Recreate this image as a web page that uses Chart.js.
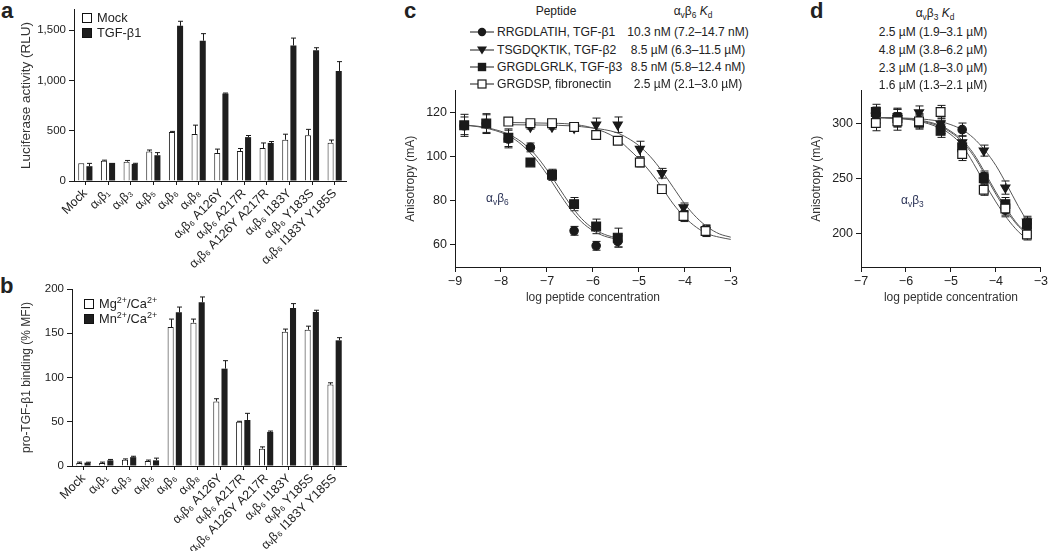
<!DOCTYPE html>
<html>
<head>
<meta charset="utf-8">
<script src="https://cdn.jsdelivr.net/npm/chart.js@4.4.1/dist/chart.umd.min.js"></script>
<style>
  body { margin: 0; width: 1050px; height: 551px; background: #fff; position: relative; overflow: hidden;
         font-family: "Liberation Sans", "DejaVu Sans", sans-serif; color: #222; }
  .abs { position: absolute; white-space: nowrap; }
  .panel { font-weight: bold; font-size: 22px; line-height: 1; }
  .txt { font-size: 12px; line-height: 14px; }
  .big { font-size: 12.8px; }
  .name { font-size: 12.2px; }
  .mid { transform: translateX(-50%); }
  .sw { display: inline-block; width: 8px; height: 8px; border: 1px solid #111; }
  canvas { display: block; }
  sub, sup { font-size: 70%; line-height: 0; }
</style>
</head>
<body>
<div class="abs panel" style="left:1px;top:0px">a</div>
<div class="abs panel" style="left:0px;top:275px">b</div>
<div class="abs panel" style="left:404px;top:0px">c</div>
<div class="abs panel" style="left:810px;top:0px">d</div>

<div class="abs" style="left:0;top:0"><canvas id="chartA" width="360" height="272"></canvas></div>
<div class="abs" style="left:0;top:272px"><canvas id="chartB" width="360" height="279"></canvas></div>
<div class="abs" style="left:395px;top:80px"><canvas id="chartC" width="345" height="229"></canvas></div>
<div class="abs" style="left:800px;top:80px"><canvas id="chartD" width="250" height="229"></canvas></div>

<div id="overlay"></div>

<script>
// ---- panel a / b : bar data ----
const groupsA = ['Mock', 'αᵥβ₁', 'αᵥβ₃', 'αᵥβ₅', 'αᵥβ₆', 'αᵥβ₈', 'αᵥβ₆ A126Y', 'αᵥβ₆ A217R',
                 'αᵥβ₆ A126Y A217R', 'αᵥβ₆ I183Y', 'αᵥβ₆ Y183S', 'αᵥβ₆ I183Y Y185S'];
const groupsB = ['Mock', 'αᵥβ₁', 'αᵥβ₃', 'αᵥβ₅', 'αᵥβ₆', 'αᵥβ₈', 'αᵥβ₆ A126Y', 'αᵥβ₆ A217R',
                 'αᵥβ₆ A126Y A217R', 'αᵥβ₆ I183Y', 'αᵥβ₆ Y185S', 'αᵥβ₆ I183Y Y185S'];
const mockRLU = [176, 202, 192, 292, 487, 468, 279, 298, 327, 410, 455, 381];
const mockErr = [0, 5, 12, 16, 6, 87, 38, 25, 51, 55, 58, 26];
const tgfRLU  = [147, 180, 170, 256, 1542, 1394, 869, 436, 378, 1346, 1298, 1093];
const tgfErr  = [28, 0, 6, 26, 45, 70, 5, 16, 14, 74, 26, 93];
const ticksA  = [0, 500, 1000, 1500];

const mgMFI  = [3.4, 3.4, 7, 5.7, 157, 162, 73, 50, 19.6, 151.7, 154, 92];
const mgErr  = [1, 1, 1, 1, 9, 4, 3, 0.5, 2, 3, 4, 2];
const mnMFI  = [3.8, 6.4, 10, 6.4, 173.6, 185, 110, 52, 38.5, 178.5, 174, 142];
const mnErr  = [0.5, 1, 1, 2.5, 6, 6, 9, 7.5, 1, 5, 2, 3];
const ticksB = [0, 50, 100, 150, 200];

// ---- panel c : alpha-v beta-6 ----
const doseC1 = [-8.8, -8.32, -7.84, -7.36, -6.89, -6.41, -5.93, -5.46];
const circC  = [114, 115, 108, 104.2, 91.5, 66.4, 59.6, 61.6];
const circCE = [4, 4, 4, 2, 2, 2, 2, 2.5];
const sqC    = [114.2, 115, 108.6, 97.4, 91.8, 78.5, 68.4, 63.3];
const sqCE   = [5, 4.5, 4, 1, 2.5, 3, 3.3, 4.3];
const doseC2 = [-7.84, -7.36, -6.89, -6.41, -5.93, -5.46, -4.98, -4.5, -4.03, -3.55];
const triC   = [null, 113.5, 113.5, 113, 114.5, 114.5, 103.5, 92.5, 77, 66.6];
const triCE  = [0, 1, 1, 1.5, 3, 3.5, 3.5, 2.2, 2, 2.5];
const openC  = [115.9, 115.2, 115.2, 113.5, 109.8, 107.2, 97.4, 85.3, 73.1, 66.3];
const openCE = [1, 1, 1, 1.5, 1.5, 1.5, 2, 1, 2.5, 2.5];
const fitXC1 = [-8.85, -8.5, -8, -7.75, -7.5, -7.25, -7, -6.75, -6.5, -6.25, -6, -5.75, -5.45];
const fitCirc = [114.4, 113.8, 111.5, 109.3, 105.8, 100.8, 94, 86.3, 78.5, 72, 67.5, 64.8, 63];
const fitSq   = [114.3, 113.6, 111, 108.5, 104.5, 99, 92, 84, 76.5, 70.5, 66.5, 64, 62.5];
const fitXC2 = [-7.85, -7, -6.5, -6, -5.5, -5.25, -5, -4.75, -4.5, -4.25, -4, -3.75, -3.5, -3.25, -3];
const fitTri  = [114.5, 114.3, 114, 113, 111, 108.5, 105, 100, 93.5, 86, 78.5, 72.5, 68, 65, 63.5];
const fitOpen = [115.5, 115.2, 114.8, 113, 108.5, 104, 99, 93, 86, 78.5, 72.5, 68, 65, 63.5, 62.5];
const ticksCx = [-9, -8, -7, -6, -5, -4, -3];
const ticksCy = [60, 80, 100, 120];

// ---- panel d : alpha-v beta-3 ----
const doseD  = [-6.67, -6.19, -5.71, -5.23, -4.75, -4.27, -3.79, -3.31];
const circD  = [308, 306, 303, 297, 294.5, 252, 221.5, 209.5];
const triD   = [307, 305, 310, 300, 283, 275.5, 242, 211];
const sqD    = [310.5, 305, 301, 293.5, 278.5, 250.5, 227, 209];
const openD  = [300.5, 302, 302, 310.5, 272.5, 240, 223, 199.5];
const errD   = [7, 8, 6, 6, 6, 5, 6, 5];
const fitXD  = [-6.7, -6.25, -5.75, -5.25, -5, -4.75, -4.5, -4.25, -4, -3.75, -3.5, -3.3];
const fitTriD  = [305.5, 305.2, 304.5, 302, 299, 294.5, 287, 276, 262, 244, 225, 211];
const fitCircD = [305.5, 305, 303.5, 298.5, 293, 285, 273, 256, 238, 222, 208, 201];
const fitSqD   = [305.5, 305, 303, 297.5, 292, 283.5, 271, 254, 236, 220, 207, 200];
const fitOpenD = [305.5, 304.8, 302.5, 296, 290, 280, 264, 246, 229, 214, 202, 195];
const ticksDx = [-7, -6, -5, -4, -3];
const ticksDy = [200, 250, 300];

// ---- legend / header text ----
const peptides = ['RRGDLATIH, TGF-β1', 'TSGDQKTIK, TGF-β2', 'GRGDLGRLK, TGF-β3', 'GRGDSP, fibronectin'];
const kdB6 = ['10.3 nM (7.2–14.7 nM)', '8.5 µM (6.3–11.5 µM)', '8.5 nM (5.8–12.4 nM)', '2.5 µM (2.1–3.0 µM)'];
const kdB3 = ['2.5 µM (1.9–3.1 µM)', '4.8 µM (3.8–6.2 µM)', '2.3 µM (1.8–3.0 µM)', '1.6 µM (1.3–2.1 µM)'];

Chart.defaults.font.family = '"Liberation Sans", "DejaVu Sans", sans-serif';
Chart.defaults.color = '#222';
Chart.defaults.animation = false;

const INK = '#1a1a1a';

// error bars, drawn under the markers
const errorBars = {
  id: 'errorBars',
  beforeDatasetsDraw(chart) {
    const ctx = chart.ctx, ys = chart.scales.y;
    chart.data.datasets.forEach((ds, i) => {
      if (!ds.errors) return;
      const meta = chart.getDatasetMeta(i);
      ctx.save();
      ctx.strokeStyle = INK;
      ctx.lineWidth = 1;
      meta.data.forEach((el, j) => {
        const e = ds.errors[j];
        const raw = ds.data[j];
        const v = (raw && typeof raw === 'object') ? raw.y : raw;
        if (!e || v == null) return;
        const x = Math.round(el.x) + 0.5;
        const top = ys.getPixelForValue(v + e);
        const bot = ds.type === 'bar' ? ys.getPixelForValue(v) : ys.getPixelForValue(v - e);
        const cap = ds.type === 'bar' ? 2.5 : 4;
        ctx.beginPath();
        ctx.moveTo(x, bot); ctx.lineTo(x, top);
        ctx.moveTo(x - cap, top); ctx.lineTo(x + cap, top);
        if (ds.type !== 'bar') { ctx.moveTo(x - cap, bot); ctx.lineTo(x + cap, bot); }
        ctx.stroke();
      });
      ctx.restore();
    });
  }
};

// canvas box + wanted plot area (page px) -> padding and axis sizes
function fit(box, area, yTitleCenter, titleSize) {
  const padL = yTitleCenter - (titleSize * 0.6 + 4) - box.l;
  return {
    padding: { left: padL, top: area.t - box.t, right: box.l + box.w - area.r, bottom: 0 },
    yWidth: area.l - box.l - padL,
    xHeight: box.t + box.h - area.b
  };
}

const axisLine = { display: true, color: INK, width: 1 };

function barChart(id, L, labels, s1, e1, s2, e2, yMax, yTicks, yTitle, titleSize, fmt) {
  return new Chart(document.getElementById(id), {
    type: 'bar',
    data: {
      labels: labels,
      datasets: [
        { type: 'bar', data: s1, errors: e1, backgroundColor: '#fff', borderColor: INK, borderWidth: 1,
          categoryPercentage: 0.72, barPercentage: 0.74 },
        { type: 'bar', data: s2, errors: e2, backgroundColor: '#1e1e1e', borderColor: INK, borderWidth: 0,
          categoryPercentage: 0.72, barPercentage: 0.74 }
      ]
    },
    options: {
      responsive: false,
      devicePixelRatio: 1,
      layout: { padding: L.padding },
      plugins: { legend: { display: false }, tooltip: { enabled: false } },
      scales: {
        x: {
          offset: true,
          grid: { display: true, drawOnChartArea: false, offset: false, tickLength: 4, color: INK },
          border: axisLine,
          ticks: { autoSkip: false, minRotation: 45, maxRotation: 45, padding: 1, font: { size: 12.5 }, color: '#222' },
          afterFit: s => { s.height = L.xHeight; }
        },
        y: {
          min: 0, max: yMax,
          grid: { drawOnChartArea: false, tickLength: 5, color: INK },
          border: axisLine,
          afterBuildTicks: s => { s.ticks = yTicks.map(v => ({ value: v })); },
          ticks: { padding: 3, font: { size: 11.5 }, color: '#222', callback: fmt },
          title: { display: true, text: yTitle, font: { size: titleSize }, color: '#333' },
          afterFit: s => { s.width = L.yWidth; }
        }
      }
    },
    plugins: [errorBars]
  });
}

barChart('chartA', fit({ l: 0, t: 0, w: 360, h: 272 }, { l: 74, t: 4, r: 346, b: 181 }, 26, 13.5),
  groupsA, mockRLU, mockErr, tgfRLU, tgfErr, 1700, ticksA, 'Luciferase activity (RLU)', 13.5,
  v => v.toLocaleString('en-US'));

barChart('chartB', fit({ l: 0, t: 272, w: 360, h: 279 }, { l: 72, t: 289, r: 346, b: 466 }, 27, 12),
  groupsB, mgMFI, mgErr, mnMFI, mnErr, 200, ticksB, 'pro-TGF-β1 binding (% MFI)', 12,
  v => v);

const pts = (xs, ys) => xs.map((x, i) => ({ x: x, y: ys[i] }));
const minus = v => (v < 0 ? '\u2212' + Math.abs(v) : '' + v);

function markers(xs, ys, errs, style) {
  const s = {
    circle:   { pointStyle: 'circle', pointRadius: 4.2, pointBackgroundColor: INK, pointBorderColor: INK, pointRotation: 0 },
    triangle: { pointStyle: 'triangle', pointRadius: 5.2, pointBackgroundColor: INK, pointBorderColor: INK, pointRotation: 180 },
    square:   { pointStyle: 'rect', pointRadius: 6.2, pointBackgroundColor: INK, pointBorderColor: INK, pointRotation: 0 },
    open:     { pointStyle: 'rect', pointRadius: 6.2, pointBackgroundColor: '#fff', pointBorderColor: INK, pointRotation: 0 }
  }[style];
  return Object.assign({ type: 'scatter', data: pts(xs, ys), errors: errs, showLine: false,
                         pointBorderWidth: 1.2, order: 1 }, s);
}
function curve(xs, ys) {
  return { type: 'line', data: pts(xs, ys), showLine: true, pointRadius: 0, borderColor: '#555',
           borderWidth: 1, cubicInterpolationMode: 'monotone', fill: false, order: 2 };
}

function doseChart(id, L, datasets, xr, yr, xTicks, yTicks) {
  return new Chart(document.getElementById(id), {
    type: 'scatter',
    data: { datasets: datasets },
    options: {
      responsive: false,
      devicePixelRatio: 1,
      layout: { padding: L.padding },
      plugins: { legend: { display: false }, tooltip: { enabled: false } },
      scales: {
        x: {
          type: 'linear', min: xr[0], max: xr[1],
          grid: { drawOnChartArea: false, tickLength: 5, color: INK },
          border: axisLine,
          afterBuildTicks: s => { s.ticks = xTicks.map(v => ({ value: v })); },
          ticks: { padding: 2, font: { size: 12.5 }, color: '#222', callback: minus },
          title: { display: true, text: 'log peptide concentration', font: { size: 12 }, color: '#333' },
          afterFit: s => { s.height = L.xHeight; }
        },
        y: {
          min: yr[0], max: yr[1],
          grid: { drawOnChartArea: false, tickLength: 5, color: INK },
          border: axisLine,
          afterBuildTicks: s => { s.ticks = yTicks.map(v => ({ value: v })); },
          ticks: { padding: 3, font: { size: 12.5 }, color: '#222' },
          title: { display: true, text: 'Anisotropy (mA)', font: { size: 12 }, color: '#333' },
          afterFit: s => { s.width = L.yWidth; }
        }
      }
    },
    plugins: [errorBars]
  });
}

doseChart('chartC', fit({ l: 395, t: 80, w: 345, h: 229 }, { l: 455, t: 86, r: 731, b: 267 }, 411, 12), [
  markers(doseC2, openC, openCE, 'open'),
  markers(doseC2, triC, triCE, 'triangle'),
  markers(doseC1, sqC, sqCE, 'square'),
  markers(doseC1, circC, circCE, 'circle'),
  curve(fitXC1, fitCirc), curve(fitXC1, fitSq), curve(fitXC2, fitTri), curve(fitXC2, fitOpen)
], [-9, -3], [50, 130], ticksCx, ticksCy);

doseChart('chartD', fit({ l: 800, t: 80, w: 250, h: 229 }, { l: 861, t: 85, r: 1043, b: 267 }, 817, 12), [
  markers(doseD, openD, errD, 'open'),
  markers(doseD, triD, errD, 'triangle'),
  markers(doseD, circD, errD, 'circle'),
  markers(doseD, sqD, errD, 'square'),
  curve(fitXD, fitTriD), curve(fitXD, fitCircD), curve(fitXD, fitSqD), curve(fitXD, fitOpenD)
], [-7, -3], [170, 330], ticksDx, ticksDy);

// ---- html legends and header tables ----
const ov = document.getElementById('overlay');
function put(html, x, y, cls) {
  const d = document.createElement('div');
  d.className = 'abs txt ' + (cls || '');
  d.style.left = x + 'px';
  d.style.top = (y - 7) + 'px';
  d.innerHTML = html;
  ov.appendChild(d);
  return d;
}
const swatch = c => '<span class="sw" style="background:' + c + ';vertical-align:-1px;margin-right:5px"></span>';

put(swatch('#fff') + 'Mock', 82, 18, 'big');
put(swatch('#1e1e1e') + 'TGF-β1', 82, 33, 'big');
put(swatch('#fff') + 'Mg<sup>2+</sup>/Ca<sup>2+</sup>', 84, 304, 'big');
put(swatch('#1e1e1e') + 'Mn<sup>2+</sup>/Ca<sup>2+</sup>', 84, 319, 'big');

const glyph = {
  circle:   '<circle cx="12" cy="6" r="4.2" fill="#1a1a1a"/>',
  triangle: '<polygon points="7,2.5 17,2.5 12,10.5" fill="#1a1a1a"/>',
  square:   '<rect x="7.8" y="1.8" width="8.4" height="8.4" fill="#1a1a1a"/>',
  open:     '<rect x="8" y="2" width="8" height="8" fill="#fff" stroke="#1a1a1a" stroke-width="1.2"/>'
};
const legendStyles = ['circle', 'triangle', 'square', 'open'];
const rowsC = [32, 50, 67, 84];
const rowsD = [32, 50, 68, 85];

put('Peptide', 556, 11, 'mid');
put('α<sub>v</sub>β<sub>6</sub> <i>K</i><sub>d</sub>', 693, 11, 'mid');
put('α<sub>v</sub>β<sub>3</sub> <i>K</i><sub>d</sub>', 935, 13, 'mid');
peptides.forEach((p, i) => {
  const svg = '<svg width="24" height="12" style="vertical-align:-2px"><line x1="0" y1="6" x2="24" y2="6" stroke="#1a1a1a" stroke-width="1"/>' +
              glyph[legendStyles[i]] + '</svg>';
  put(svg, 470, rowsC[i]);
  put(p, 497, rowsC[i], 'name');
  put(kdB6[i], 688, rowsC[i], 'mid');
  put(kdB3[i], 933, rowsD[i], 'mid');
});
put('α<sub>v</sub>β<sub>6</sub>', 486, 198).style.color = '#2d3558';
put('α<sub>v</sub>β<sub>3</sub>', 901, 200).style.color = '#2d3558';
</script>
</body>
</html>
